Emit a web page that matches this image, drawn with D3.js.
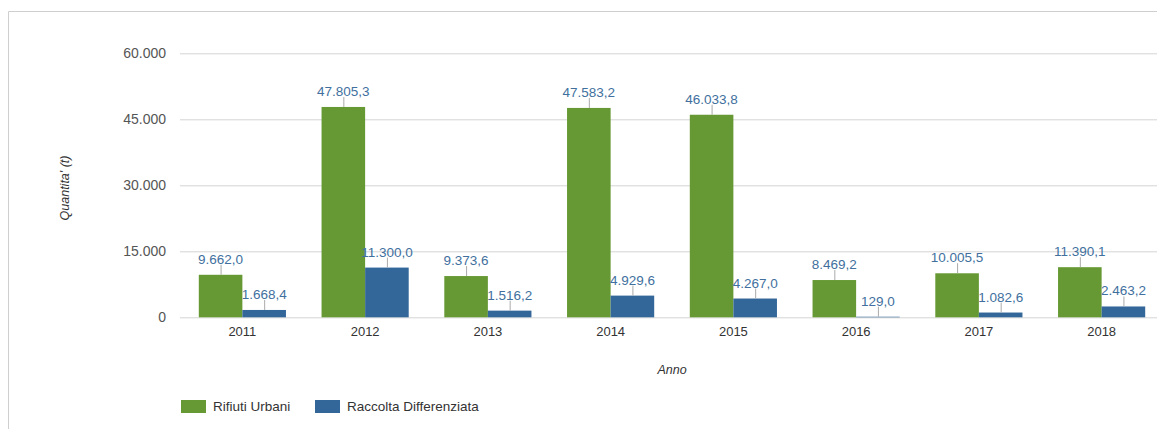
<!DOCTYPE html>
<html>
<head>
<meta charset="utf-8">
<script src="https://cdn.jsdelivr.net/npm/d3@7"></script>
<style>
  body { margin: 0; background: #fff; }
  svg { display: block; font-family: "Liberation Sans", Arial, sans-serif; }
  .grid line { stroke: #d4d4d4; }
  .grid path { display: none; }
  .y.axis text { fill: #555; font-size: 14px; }
  .x.axis text { fill: #333; font-size: 13px; }
  .y.axis path, .y.axis line, .x.axis path, .x.axis line { display: none; }
  .val { fill: #41709e; font-size: 13.5px; text-anchor: middle; }
  .leader { stroke: #aaa; }
  .title { font-style: italic; fill: #333; font-size: 12.5px; }
  .legend text { fill: #333; font-size: 13.5px; }
</style>
</head>
<body>
<div id="chart"></div>
<script>
var years = ["2011","2012","2013","2014","2015","2016","2017","2018"]
var rifiutiUrbani = [9662.0, 47805.3, 9373.6, 47583.2, 46033.8, 8469.2, 10005.5, 11390.1]
var raccoltaDiff = [1668.4, 11300.0, 1516.2, 4929.6, 4267.0, 129.0, 1082.6, 2463.2]
var seriesNames = ["Rifiuti Urbani", "Raccolta Differenziata"]
var seriesColors = ["#669933", "#336699"]
var yTicks = [0, 15000, 30000, 45000, 60000]

var W = 1157, H = 429
var it = d3.formatLocale({decimal: ",", thousands: ".", grouping: [3], currency: ["", "€"]})
var fmtVal = it.format(",.1f")
var fmtTick = it.format(",")

var svg = d3.select("#chart").append("svg")
  .attr("width", W)
  .attr("height", H)

// frame
svg.append("path")
  .attr("d", "M8.5," + H + "V11.5H" + W)
  .attr("fill", "none")
  .attr("stroke", "#cfcfcf")

var x0 = d3.scaleBand().domain(years).range([181, 1163]).paddingInner(0.29).paddingOuter(0.145)
var x1 = d3.scaleBand().domain([0, 1]).range([0, x0.bandwidth()])
var y = d3.scaleLinear().domain([0, 60000]).range([317.3, 53.3])

svg.append("g")
  .attr("class", "grid")
  .attr("transform", "translate(180,0)")
  .call(d3.axisLeft(y).tickValues(yTicks).tickSize(-(W - 180)).tickFormat(""))

svg.append("g")
  .attr("class", "y axis")
  .attr("transform", "translate(172,0)")
  .call(d3.axisLeft(y).tickValues(yTicks).tickSize(0).tickPadding(6).tickFormat(fmtTick))

svg.append("g")
  .attr("class", "x axis")
  .attr("transform", "translate(0,318)")
  .call(d3.axisBottom(x0).tickSize(0).tickPadding(9))

var rows = years.map(function(yr, i){
  return {year: yr, vals: [rifiutiUrbani[i], raccoltaDiff[i]]}
})

var groups = svg.append("g").selectAll("g")
  .data(rows)
  .join("g")
    .attr("transform", function(d){ return "translate(" + x0(d.year) + ",0)" })

var cells = groups.selectAll("g")
  .data(function(d){ return d.vals.map(function(v, s){ return {s: s, v: v} }) })
  .join("g")

cells.append("rect")
  .attr("x", function(d){ return x1(d.s) })
  .attr("width", x1.bandwidth())
  .attr("y", function(d){ return y(d.v) })
  .attr("height", function(d){ return y(0) - y(d.v) })
  .attr("fill", function(d){ return seriesColors[d.s] })

cells.append("line")
  .attr("class", "leader")
  .attr("x1", function(d){ return x1(d.s) + x1.bandwidth() / 2 + 0.5 })
  .attr("x2", function(d){ return x1(d.s) + x1.bandwidth() / 2 + 0.5 })
  .attr("y1", function(d){ return y(d.v) })
  .attr("y2", function(d){ return y(d.v) - 10 })

cells.append("text")
  .attr("class", "val")
  .attr("x", function(d){ return x1(d.s) + x1.bandwidth() / 2 })
  .attr("y", function(d){ return y(d.v) - 11 })
  .text(function(d){ return fmtVal(d.v) })

svg.append("text")
  .attr("class", "title")
  .attr("transform", "translate(69,188) rotate(-90)")
  .style("text-anchor", "middle")
  .text("Quantita' (t)")

svg.append("text")
  .attr("class", "title")
  .attr("x", 672)
  .attr("y", 374)
  .style("text-anchor", "middle")
  .text("Anno")

var legend = svg.append("g").attr("class", "legend")
var legX = [181, 315]
seriesNames.forEach(function(name, i){
  legend.append("rect")
    .attr("x", legX[i])
    .attr("y", 400)
    .attr("width", 25)
    .attr("height", 13)
    .attr("fill", seriesColors[i])
  legend.append("text")
    .attr("x", legX[i] + 32)
    .attr("y", 411)
    .text(name)
})
</script>
</body>
</html>
